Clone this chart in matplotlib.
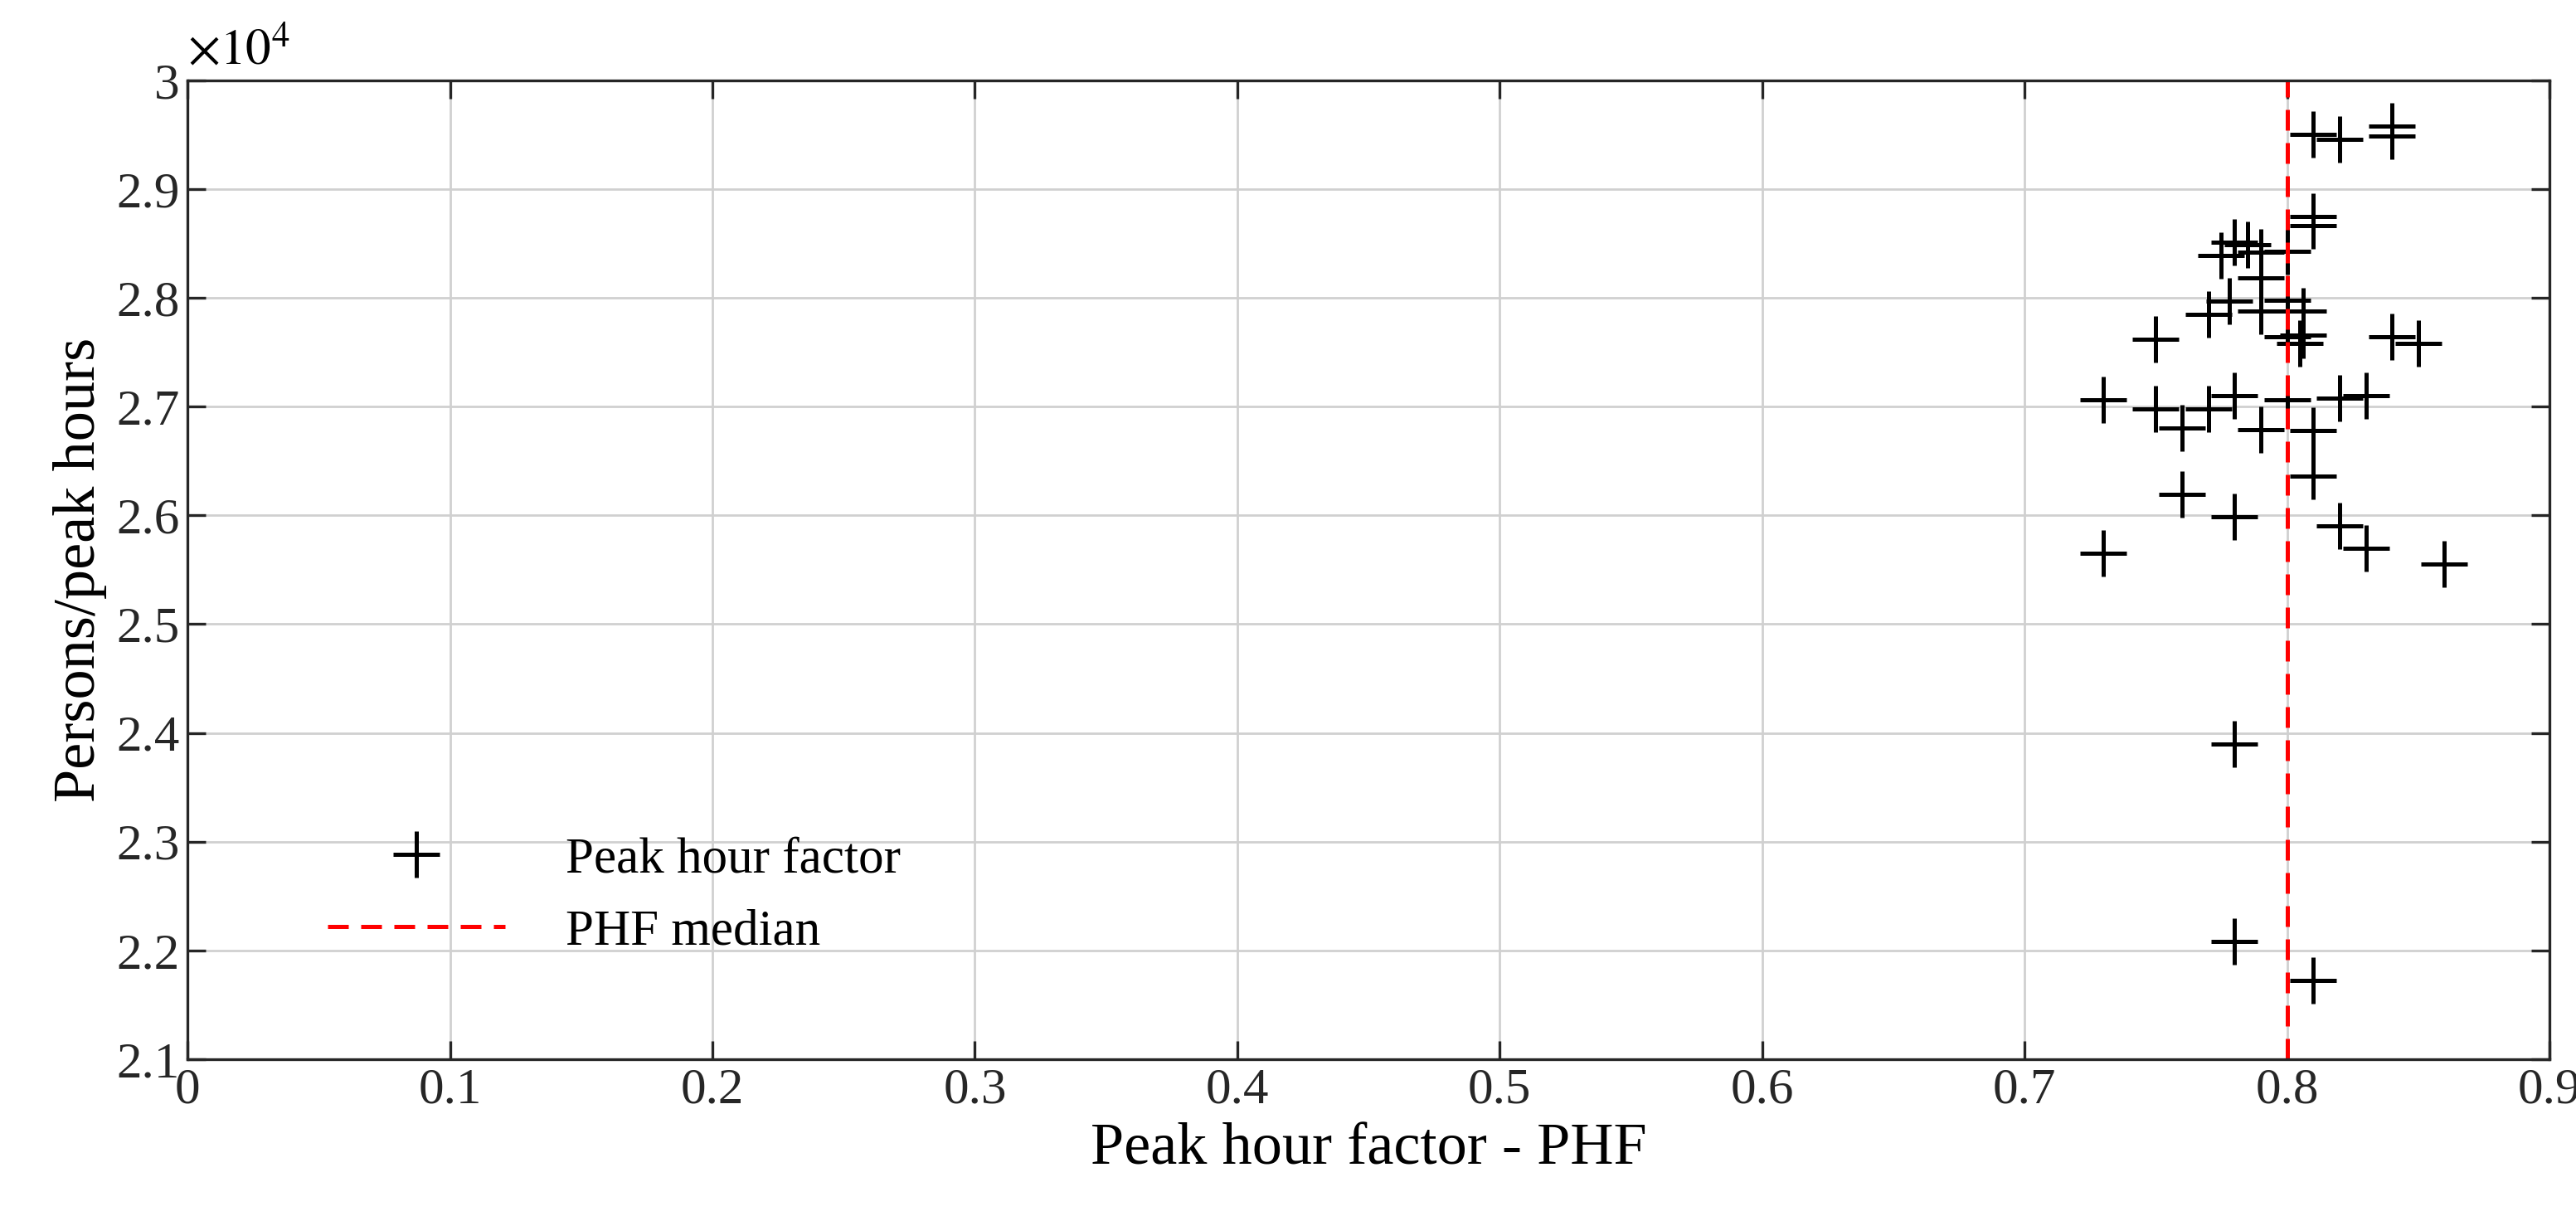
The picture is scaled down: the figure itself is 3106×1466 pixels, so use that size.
import matplotlib
matplotlib.use("Agg")
from matplotlib import pyplot as plt

phf = [0.81, 0.82, 0.84, 0.84, 0.81, 0.81, 0.78, 0.775, 0.785, 0.79, 0.80,
       0.79, 0.778, 0.77, 0.79, 0.80, 0.806, 0.75, 0.806, 0.805, 0.80, 0.84,
       0.85, 0.73, 0.75, 0.76, 0.77, 0.78, 0.80, 0.82, 0.83, 0.79, 0.81, 0.81,
       0.76, 0.78, 0.82, 0.73, 0.83, 0.86, 0.78, 0.78, 0.81]
persons = [2.950, 2.946, 2.958, 2.949, 2.875, 2.866, 2.851, 2.839, 2.849, 2.842,
           2.843, 2.818, 2.797, 2.785, 2.788, 2.798, 2.788, 2.762, 2.766, 2.758,
           2.764, 2.764, 2.758, 2.706, 2.698, 2.680, 2.698, 2.710, 2.706, 2.708,
           2.710, 2.679, 2.678, 2.636, 2.619, 2.599, 2.590, 2.565, 2.570, 2.555,
           2.390, 2.208, 2.172]
phf_median = 0.80

plt.rcParams['font.family'] = ['Liberation Serif', 'DejaVu Serif']
plt.rcParams['mathtext.fontset'] = 'stix'
fig = plt.figure(figsize=(15.53, 7.33), dpi=200)
ax = fig.add_axes([0.0728, 0.129, 0.9169, 0.805])

ax.plot(phf, persons, linestyle='none', marker='+', color='black',
        markersize=20, markeredgewidth=1.8, label='Peak hour factor')
ax.axvline(phf_median, color='red', linestyle=(0, (5, 3)), linewidth=1.8,
           label='PHF median')

ax.set_xlim(0, 0.9)
ax.set_ylim(2.1, 3.0)
ax.set_xticks([i / 10 for i in range(10)])
ax.set_xticklabels(['0'] + ['%.1f' % (i / 10) for i in range(1, 10)])
ax.set_yticks([2.1 + i / 10 for i in range(10)])
ax.set_yticklabels(['%.1f' % (2.1 + i / 10) for i in range(9)] + ['3'])
ax.grid(True, color='#d0d0d0', linewidth=1.0)
ax.tick_params(direction='in', top=True, right=True, labelsize=22, length=8,
               width=1.2, colors='#262626')
for s in ax.spines.values():
    s.set_linewidth(1.2)
    s.set_color('#262626')
ax.set_xlabel('Peak hour factor - PHF', fontsize=26)
ax.set_ylabel('Persons/peak hours', fontsize=26)
ax.text(0.0, 1.005, r'$\times10^4$', transform=ax.transAxes, fontsize=22,
        ha='left', va='bottom')

leg = ax.legend(loc='lower left', bbox_to_anchor=(0.04, 0.06), frameon=False,
                fontsize=22, handlelength=3.5, handletextpad=1.2)

fig.savefig('out.png', dpi=200)
